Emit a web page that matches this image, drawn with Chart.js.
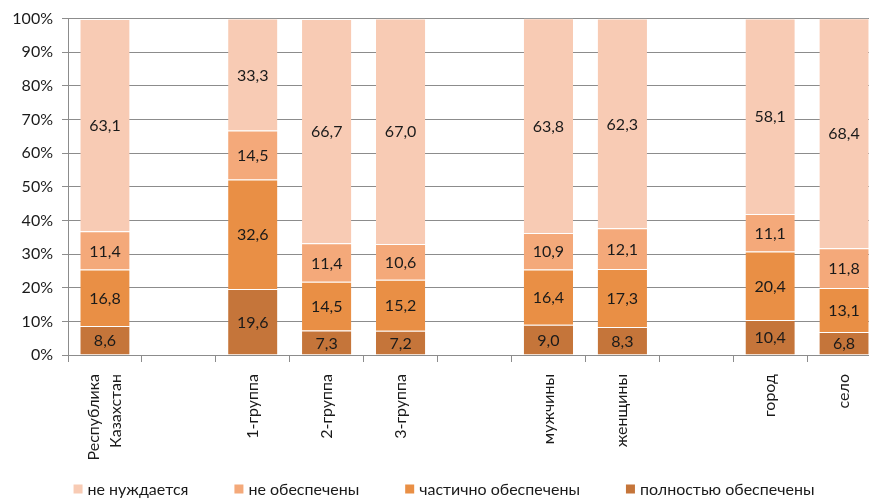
<!DOCTYPE html>
<html lang="ru">
<head>
<meta charset="utf-8">
<script src="https://cdn.jsdelivr.net/npm/chart.js@4/dist/chart.umd.min.js"></script>
<style>
  html, body { margin: 0; padding: 0; background: #fff; overflow: hidden; }
  #wrap { width: 882px; height: 498px; }
</style>
</head>
<body>
<div id="wrap"><canvas id="chart" width="882" height="498"></canvas></div>
<script>
// Categories (empty strings keep the gaps between groups)
const categories = [
  ['Республика', 'Казахстан'], '', '1-группа', '2-группа', '3-группа', '',
  'мужчины', 'женщины', '', 'город', 'село'
];

// Shares, %, stacked from the bottom up
const fullyProvided     = [8.6, null, 19.6, 7.3, 7.2, null, 9.0, 8.3, null, 10.4, 6.8];
const partlyProvided    = [16.8, null, 32.6, 14.5, 15.2, null, 16.4, 17.3, null, 20.4, 13.1];
const notProvided       = [11.4, null, 14.5, 11.4, 10.6, null, 10.9, 12.1, null, 11.1, 11.8];
const notNeeded         = [63.1, null, 33.3, 66.7, 67.0, null, 63.8, 62.3, null, 58.1, 68.4];

const seriesNames = ['полностью обеспечены', 'частично обеспечены', 'не обеспечены', 'не нуждается'];
const yTicks = [0, 10, 20, 30, 40, 50, 60, 70, 80, 90, 100];

const FONT = 'Lato, "Open Sans", sans-serif';
const TEXT = '#1a1a1a';
const X_LINE_HEIGHT = 1.35;

// Value labels centred in every bar segment
const segmentLabels = {
  id: 'segmentLabels',
  afterDatasetsDraw(chart) {
    const ctx = chart.ctx;
    ctx.save();
    ctx.font = '16px ' + FONT;
    ctx.fillStyle = TEXT;
    ctx.textAlign = 'center';
    ctx.textBaseline = 'middle';
    chart.data.datasets.forEach((ds, i) => {
      const meta = chart.getDatasetMeta(i);
      meta.data.forEach((bar, j) => {
        const v = ds.data[j];
        if (v === null || v === undefined) return;
        const p = bar.getProps(['x', 'y', 'base'], true);
        ctx.fillText(v.toFixed(1).replace('.', ','), p.x, (p.y + p.base) / 2 + 1);
      });
    });
    ctx.restore();
  }
};

// Centre multi-line rotated category labels on their tick
const centerMultiline = {
  id: 'centerMultiline',
  beforeDraw(chart) {
    const scale = chart.scales.x;
    const lh = 16 * X_LINE_HEIGHT;
    scale.getLabelItems().forEach(item => {
      if (Array.isArray(item.label) && !item._centred) {
        item.options.translation[0] -= (item.label.length - 1) * lh / 2;
        item._centred = true;
      }
    });
  }
};

// Single-row legend along the bottom, top series first
const bottomLegend = {
  id: 'bottomLegend',
  afterDraw(chart) {
    const ctx = chart.ctx;
    const items = chart.data.datasets.slice().reverse();
    const box = 9, gapText = 5, gapItem = 46;
    ctx.save();
    ctx.font = '16px ' + FONT;
    const widths = items.map(d => box + gapText + ctx.measureText(d.label).width);
    const total = widths.reduce((a, b) => a + b, 0) + gapItem * (items.length - 1);
    let x = 444 - total / 2;
    const y = 490;
    ctx.textBaseline = 'middle';
    ctx.textAlign = 'left';
    items.forEach((d, i) => {
      ctx.fillStyle = d.backgroundColor;
      ctx.fillRect(x, y - box / 2 - 1, box, box);
      ctx.fillStyle = TEXT;
      ctx.fillText(d.label, x + box + gapText, y);
      x += widths[i] + gapItem;
    });
    ctx.restore();
  }
};

const segBorder = { top: 1, bottom: 0, left: 0, right: 0 };

new Chart(document.getElementById('chart'), {
  type: 'bar',
  data: {
    labels: categories,
    datasets: [
      { label: seriesNames[0], data: fullyProvided,  backgroundColor: '#C5753A' },
      { label: seriesNames[1], data: partlyProvided, backgroundColor: '#E98F45' },
      { label: seriesNames[2], data: notProvided,    backgroundColor: '#F4A97A' },
      { label: seriesNames[3], data: notNeeded,      backgroundColor: '#F8CBB4' }
    ].map(d => Object.assign(d, {
      borderColor: 'rgba(255,255,255,0.45)',
      borderWidth: segBorder,
      borderSkipped: false,
      categoryPercentage: 1,
      barPercentage: 0.667
    }))
  },
  options: {
    responsive: false,
    animation: false,
    layout: { padding: { top: 12, right: 1, left: 0, bottom: 0 } },
    plugins: {
      tooltip: { enabled: false },
      legend: { display: false }
    },
    scales: {
      x: {
        stacked: true,
        offset: true,
        grid: {
          offset: true,
          drawOnChartArea: false,
          drawTicks: true,
          tickLength: 7,
          color: '#8c8c8c'
        },
        border: { color: '#8c8c8c' },
        ticks: {
          autoSkip: false,
          minRotation: 90,
          maxRotation: 90,
          padding: 12,
          font: { family: FONT, size: 16, lineHeight: X_LINE_HEIGHT },
          color: TEXT
        },
        afterFit(scale) {
          scale.height = scale.chart.height - 355;
        }
      },
      y: {
        stacked: true,
        min: 0,
        max: 100,
        afterBuildTicks(scale) {
          scale.ticks = yTicks.map(v => ({ value: v }));
        },
        grid: { color: '#8c8c8c', tickLength: 6 },
        border: { color: '#8c8c8c' },
        ticks: {
          padding: 9,
          font: { family: FONT, size: 16 },
          color: TEXT,
          callback: v => v + '%'
        },
        afterFit(scale) { scale.width = 68; }
      }
    }
  },
  plugins: [segmentLabels, centerMultiline, bottomLegend]
});
</script>
</body>
</html>
